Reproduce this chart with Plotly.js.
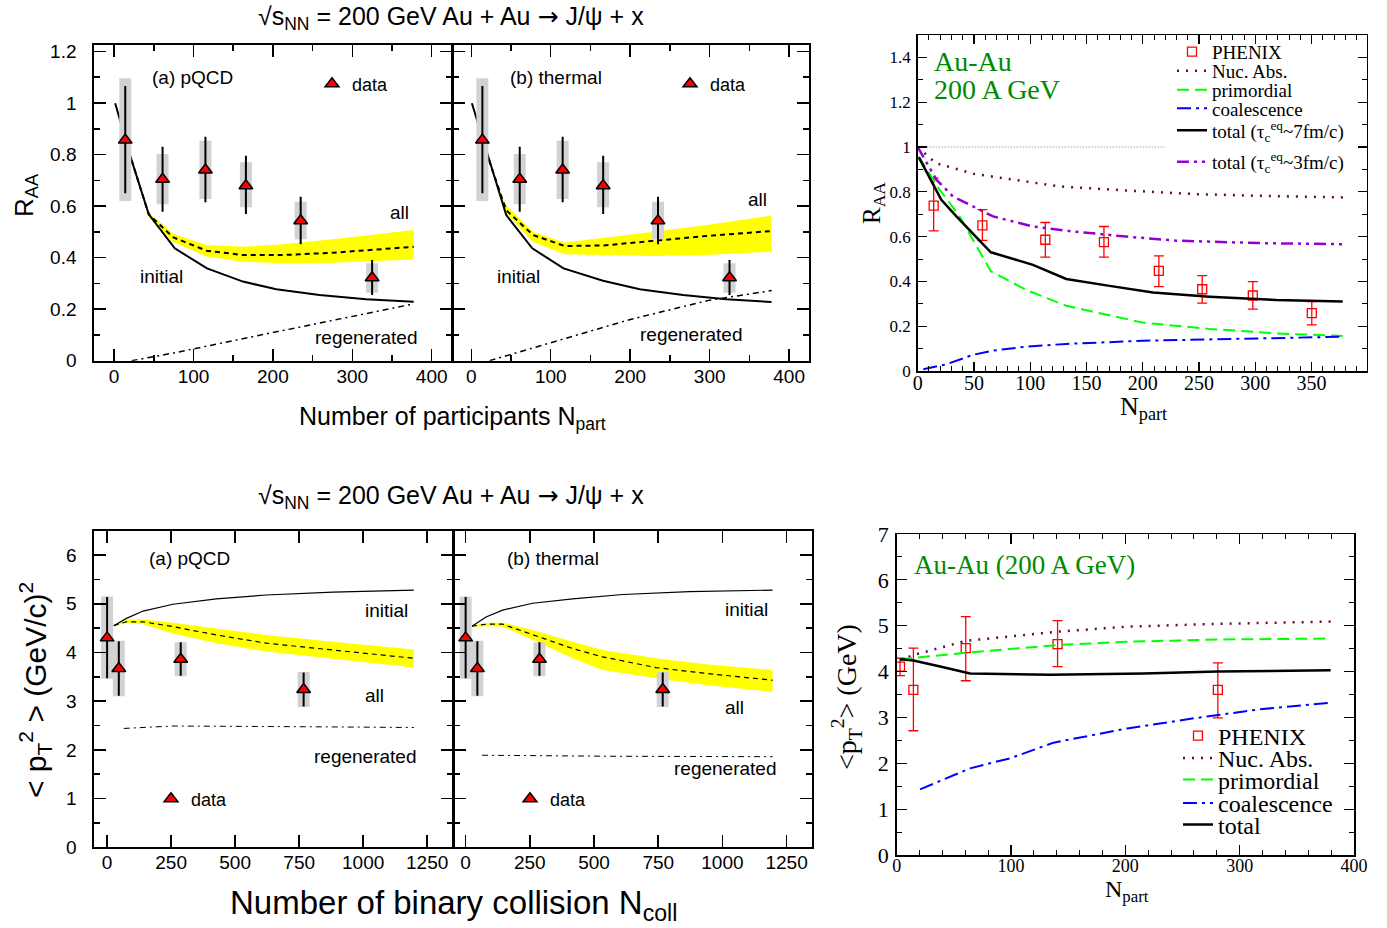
<!DOCTYPE html>
<html><head><meta charset="utf-8">
<script src="https://cdn.plot.ly/plotly-3.0.1.min.js"></script>
<style>body{margin:0;background:#fff}#plot{width:1387px;height:928px}</style>
</head><body><div id="plot"></div>
<script>
// ---------- Top-left panels: R_AA vs Npart (data) ----------
const raaNpart = [14, 61, 115, 166, 235, 325];
const raaVal = [0.856, 0.704, 0.74, 0.679, 0.543, 0.322];
const raaErrUp = [0.21, 0.126, 0.129, 0.116, 0.093, 0.069];
const raaErrDn = [0.206, 0.126, 0.125, 0.11, 0.091, 0.067];
const raaSysUp = [0.24, 0.098, 0.113, 0.091, 0.074, 0.056];
const raaSysDn = [0.236, 0.097, 0.113, 0.084, 0.072, 0.058];
// (a) pQCD
const pqcdInitX = [1.3, 21.9, 43.6, 76.4, 117, 162.3, 204.3, 258.7, 317.5, 377.4];
const pqcdInitY = [0.999, 0.779, 0.568, 0.436, 0.358, 0.307, 0.277, 0.255, 0.238, 0.229];
const pqcdAllX = [21.9, 43.6, 74.2, 116.2, 162.3, 212.6, 275.5, 377.4];
const pqcdAllY = [0.779, 0.568, 0.479, 0.427, 0.41, 0.41, 0.419, 0.442];
const pqcdBandX = [43.6, 74.2, 116.2, 162.3, 212.6, 275.5, 377.4];
const pqcdBandHi = [0.575, 0.494, 0.449, 0.442, 0.452, 0.471, 0.507];
const pqcdBandLo = [0.56, 0.462, 0.404, 0.384, 0.378, 0.38, 0.393];
const pqcdRegX = [22, 75, 150, 225, 300, 377];
const pqcdRegY = [0, 0.03, 0.078, 0.125, 0.17, 0.22];
// (b) thermal
const thInitX = [0.8, 22.2, 44, 76.8, 116.2, 165.8, 212, 266.5, 321, 377.8];
const thInitY = [0.999, 0.779, 0.565, 0.436, 0.358, 0.31, 0.277, 0.255, 0.238, 0.228];
const thAllX = [22.2, 44, 77.6, 117.5, 165.8, 228.7, 296, 377.8];
const thAllY = [0.779, 0.584, 0.488, 0.445, 0.447, 0.466, 0.484, 0.503];
const thBandX = [33, 44, 77.6, 117.5, 228.7, 296, 377.8];
const thBandHi = [0.675, 0.604, 0.5, 0.459, 0.5, 0.527, 0.563];
const thBandLo = [0.66, 0.572, 0.462, 0.413, 0.406, 0.41, 0.423];
const thRegX = [23, 100, 200, 300, 378];
const thRegY = [0, 0.07, 0.16, 0.235, 0.272];

// ---------- Top-right: R_AA (Au-Au 200 A GeV) ----------
const phxX = [14.2, 57.5, 113.4, 165.5, 214.3, 252.8, 297.8, 350.2];
const phxY = [0.738, 0.65, 0.586, 0.575, 0.447, 0.365, 0.337, 0.258];
const phxErrUp = [0.123, 0.07, 0.077, 0.07, 0.067, 0.061, 0.062, 0.052];
const phxErrDn = [0.112, 0.067, 0.078, 0.067, 0.07, 0.062, 0.061, 0.052];
const refX = [0, 220];
const refY = [1, 1];
const nucX = [0, 16, 50, 126, 185, 245, 304, 378];
const nucY = [1.0, 0.928, 0.88, 0.824, 0.806, 0.79, 0.782, 0.775];
const primX = [1, 19.5, 37.3, 65, 96.5, 132, 200, 259.3, 318.6, 377.7];
const primY = [0.958, 0.809, 0.69, 0.445, 0.362, 0.291, 0.216, 0.188, 0.168, 0.156];
const coalX = [5, 25.5, 49, 67, 96.5, 132, 200, 259.3, 318.6, 377.7];
const coalY = [0.008, 0.03, 0.072, 0.091, 0.109, 0.121, 0.135, 0.142, 0.148, 0.153];
const tot7X = [1, 21, 34.4, 65, 102.4, 132, 170.5, 209, 259.3, 318.6, 377.7];
const tot7Y = [0.954, 0.764, 0.69, 0.53, 0.474, 0.411, 0.38, 0.35, 0.332, 0.317, 0.31];
const tot3X = [0, 16.6, 31.4, 67, 102.4, 138, 185.3, 229.7, 303.7, 377.7];
const tot3Y = [1.0, 0.854, 0.779, 0.69, 0.645, 0.623, 0.6, 0.582, 0.571, 0.566];

// ---------- Bottom-left panels: <pT^2> vs Ncoll ----------
const ptNcoll = [0, 45.7, 287.5, 767.5];
const ptVal = [4.30, 3.67, 3.86, 3.24];
const ptErrUp = [0.84, 0.56, 0.35, 0.35];
const ptErrDn = [0.83, 0.56, 0.34, 0.35];
const ptSysUp = [0.85, 0.57, 0.35, 0.36];
const ptSysDn = [0.84, 0.57, 0.35, 0.36];
// (a) pQCD
const ptqInitX = [26.1, 75.6, 140.5, 257.5, 426.8, 621.9, 881.8, 1197.8];
const ptqInitY = [4.55, 4.70, 4.85, 4.99, 5.10, 5.18, 5.24, 5.28];
const ptqAllX = [26.1, 75.6, 140.5, 257.5, 426.8, 621.9, 881.8, 1197.8];
const ptqAllY = [4.55, 4.63, 4.63, 4.53, 4.36, 4.19, 4.05, 3.88];
const ptqBandHi = [4.56, 4.67, 4.68, 4.61, 4.49, 4.36, 4.22, 4.06];
const ptqBandLo = [4.54, 4.61, 4.58, 4.39, 4.19, 4.02, 3.87, 3.69];
const ptqRegX = [65.2, 257.5, 621.9, 1197.8];
const ptqRegY = [2.44, 2.49, 2.48, 2.46];
// (b) thermal
const pttInitX = [24.9, 79.4, 144, 261, 416.7, 611.4, 871, 1195.5];
const pttInitY = [4.54, 4.73, 4.87, 5.01, 5.10, 5.19, 5.25, 5.28];
const pttAllX = [24.9, 79.4, 144, 261, 416.7, 533, 741.4, 936, 1195.5];
const pttAllY = [4.54, 4.58, 4.58, 4.36, 4.08, 3.91, 3.69, 3.57, 3.43];
const pttBandHi = [4.55, 4.61, 4.61, 4.46, 4.22, 4.05, 3.88, 3.76, 3.64];
const pttBandLo = [4.53, 4.54, 4.53, 4.26, 3.88, 3.64, 3.47, 3.33, 3.19];
const pttRegX = [63.8, 546.7, 1195.5];
const pttRegY = [1.89, 1.87, 1.86];

// ---------- Bottom-right: <pT^2> (Au-Au 200 A GeV) ----------
const ppX = [2.9, 14.6, 60.4, 140.7, 280.9];
const ppY = [4.11, 3.6, 4.51, 4.6, 3.6];
const ppErrUp = [0.18, 0.91, 0.69, 0.51, 0.59];
const ppErrDn = [0.2, 0.89, 0.71, 0.49, 0.61];
const nucPtX = [3, 14.6, 60.4, 140.7, 201.5, 280.9, 379.6];
const nucPtY = [4.25, 4.36, 4.67, 4.87, 4.98, 5.04, 5.09];
const primPtX = [3, 60.4, 140.7, 201.5, 280.9, 379.6];
const primPtY = [4.27, 4.41, 4.58, 4.65, 4.70, 4.72];
const coalPtX = [20.4, 64.2, 99.3, 137.2, 201.5, 259.8, 318.3, 379.6];
const coalPtY = [1.43, 1.89, 2.11, 2.45, 2.76, 2.98, 3.18, 3.32];
const totPtX = [3, 14.6, 38, 64.2, 134.3, 216, 280.9, 379.6];
const totPtY = [4.27, 4.24, 4.11, 3.96, 3.93, 3.96, 4.0, 4.03];

// ---------- helpers ----------
const W = 1387, H = 928;
const PX = v => v / W, PY = v => 1 - v / H;
const SANS = 'Liberation Sans, Arial, Helvetica, sans-serif';
const SERIF = 'Liberation Serif, Times New Roman, serif';
const YEL = '#ffff00', GREY = '#d2d2d2';
const MAROON = '#670748', LIME = '#00ff00', BLUE = '#0000ff', VIOLET = '#9400d3';

const traces = [];
function bandTraces(xa, ya, bx, hi, lo) {
  traces.push({x: bx, y: hi, xaxis: xa, yaxis: ya, mode: 'lines', line: {width: 0, color: YEL}, showlegend: false, hoverinfo: 'skip'});
  traces.push({x: bx, y: lo, xaxis: xa, yaxis: ya, mode: 'lines', line: {width: 0, color: YEL}, fill: 'tonexty', fillcolor: YEL, showlegend: false, hoverinfo: 'skip'});
}
function lineTrace(xa, ya, x, y, color, width, dash, name, legend) {
  traces.push({x, y, xaxis: xa, yaxis: ya, mode: 'lines', name: name || '',
    line: {color, width, dash: dash || 'solid'}, showlegend: !!legend, legend: legend || 'legend'});
}
function dataTriangles(xa, ya, x, y, eu, ed, su, sd, legend) {
  traces.push({x, y, xaxis: xa, yaxis: ya, mode: 'markers', marker: {size: 1, color: 'rgba(0,0,0,0)'},
    error_y: {type: 'data', symmetric: false, array: su, arrayminus: sd, color: GREY, thickness: 12, width: 0},
    showlegend: false, hoverinfo: 'skip'});
  traces.push({x, y, xaxis: xa, yaxis: ya, mode: 'markers', name: 'data', legend,
    marker: {symbol: 'triangle-up', size: 12, color: '#ff0000', line: {color: '#000', width: 1.5}},
    error_y: {type: 'data', symmetric: false, array: eu, arrayminus: ed, color: '#000', thickness: 2, width: 0},
    showlegend: true});
}

// TL (a)
bandTraces('x', 'y', pqcdBandX, pqcdBandHi, pqcdBandLo);
lineTrace('x', 'y', pqcdAllX, pqcdAllY, '#000', 2, '5px,4px');
lineTrace('x', 'y', pqcdInitX, pqcdInitY, '#000', 2);
lineTrace('x', 'y', pqcdRegX, pqcdRegY, '#000', 1.5, '6px,4px,2px,4px');
dataTriangles('x', 'y', raaNpart, raaVal, raaErrUp, raaErrDn, raaSysUp, raaSysDn, 'legend');
// TL (b)
bandTraces('x2', 'y2', thBandX, thBandHi, thBandLo);
lineTrace('x2', 'y2', thAllX, thAllY, '#000', 2, '5px,4px');
lineTrace('x2', 'y2', thInitX, thInitY, '#000', 2);
lineTrace('x2', 'y2', thRegX, thRegY, '#000', 1.5, '6px,4px,2px,4px');
dataTriangles('x2', 'y2', raaNpart, raaVal, raaErrUp, raaErrDn, raaSysUp, raaSysDn, 'legend2');

// TR
lineTrace('x3', 'y3', refX, refY, '#555', 0.8, '1px,2px');
traces.push({x: phxX, y: phxY, xaxis: 'x3', yaxis: 'y3', mode: 'markers', name: 'PHENIX', legend: 'legend3',
  marker: {symbol: 'square-open', size: 9, color: '#ff0000', line: {width: 1.3, color: '#ff0000'}},
  error_y: {type: 'data', symmetric: false, array: phxErrUp, arrayminus: phxErrDn, color: '#ff0000', thickness: 1.3, width: 5}});
lineTrace('x3', 'y3', nucX, nucY, MAROON, 2.5, '2px,7px', 'Nuc. Abs.', 'legend4');
lineTrace('x3', 'y3', primX, primY, LIME, 2, '12px,6px', 'primordial', 'legend5');
lineTrace('x3', 'y3', coalX, coalY, BLUE, 2, '14px,5px,3px,5px', 'coalescence', 'legend6');
lineTrace('x3', 'y3', tot7X, tot7Y, '#000', 2.5, 'solid', 'total (τ<sub>c</sub><sup>eq</sup>~7fm/c)', 'legend7');
lineTrace('x3', 'y3', tot3X, tot3Y, VIOLET, 2.5, '12px,5px,3px,5px,3px,5px', 'total (τ<sub>c</sub><sup>eq</sup>~3fm/c)', 'legend8');

// BL (a)
bandTraces('x4', 'y4', ptqAllX, ptqBandHi, ptqBandLo);
lineTrace('x4', 'y4', ptqAllX, ptqAllY, '#000', 1.2, '5px,4px');
lineTrace('x4', 'y4', ptqInitX, ptqInitY, '#000', 1.2);
lineTrace('x4', 'y4', ptqRegX, ptqRegY, '#000', 1, '6px,4px,2px,4px');
dataTriangles('x4', 'y4', ptNcoll, ptVal, ptErrUp, ptErrDn, ptSysUp, ptSysDn, 'legend9');
// BL (b)
bandTraces('x5', 'y5', pttAllX, pttBandHi, pttBandLo);
lineTrace('x5', 'y5', pttAllX, pttAllY, '#000', 1.2, '5px,4px');
lineTrace('x5', 'y5', pttInitX, pttInitY, '#000', 1.2);
lineTrace('x5', 'y5', pttRegX, pttRegY, '#000', 1, '6px,4px,2px,4px');
dataTriangles('x5', 'y5', ptNcoll, ptVal, ptErrUp, ptErrDn, ptSysUp, ptSysDn, 'legend10');

// BR
traces.push({x: ppX, y: ppY, xaxis: 'x6', yaxis: 'y6', mode: 'markers', name: 'PHENIX', legend: 'legend11',
  marker: {symbol: 'square-open', size: 9, color: '#ff0000', line: {width: 1.3, color: '#ff0000'}},
  error_y: {type: 'data', symmetric: false, array: ppErrUp, arrayminus: ppErrDn, color: '#ff0000', thickness: 1.3, width: 5}});
lineTrace('x6', 'y6', nucPtX, nucPtY, MAROON, 2.5, '2px,7px', 'Nuc. Abs.', 'legend12');
lineTrace('x6', 'y6', primPtX, primPtY, LIME, 2, '12px,6px', 'primordial', 'legend13');
lineTrace('x6', 'y6', coalPtX, coalPtY, BLUE, 2, '14px,5px,3px,5px', 'coalescence', 'legend14');
lineTrace('x6', 'y6', totPtX, totPtY, '#000', 2.5, 'solid', 'total', 'legend15');

// ---------- axes ----------
function ax(o) {
  return Object.assign({showline: true, linecolor: '#000', linewidth: 2, mirror: 'allticks', ticks: 'inside',
    ticklen: 12, tickwidth: 1.5, tickcolor: '#000', showgrid: false, zeroline: false, fixedrange: true}, o);
}
const sansTick = {family: SANS, size: 19, color: '#000'};
const minorL = d => ({dtick: d, ticks: 'inside', ticklen: 6, tickwidth: 1.5, tickcolor: '#000'});
const minorR = d => ({dtick: d, ticks: 'inside', ticklen: 5, tickwidth: 1, tickcolor: '#000'});

const layout = {
  width: W, height: H, margin: {l: 0, r: 0, t: 0, b: 0}, paper_bgcolor: '#fff', plot_bgcolor: '#fff',
  showlegend: true,
  xaxis: ax({domain: [PX(94.3), PX(451.5)], anchor: 'y', range: [-25, 425], tick0: 0, dtick: 100, minor: minorL(50), tickfont: sansTick, ticklabelstandoff: -3}),
  yaxis: ax({domain: [PY(360.7), PY(45)], anchor: 'x', range: [0, 1.225], tick0: 0, dtick: 0.2, minor: minorL(0.1), tickfont: sansTick, ticklabelstandoff: 12}),
  xaxis2: ax({domain: [PX(452.5), PX(809)], anchor: 'y2', range: [-23.6, 425], tick0: 0, dtick: 100, minor: minorL(50), tickfont: sansTick, ticklabelstandoff: -3}),
  yaxis2: ax({domain: [PY(360.7), PY(45)], anchor: 'x2', range: [0, 1.225], tick0: 0, dtick: 0.2, minor: minorL(0.1), showticklabels: false}),
  xaxis3: ax({domain: [PX(917.7), PX(1366.7)], anchor: 'y3', range: [0, 399], tickvals: [0, 50, 100, 150, 200, 250, 300, 350], minor: minorR(10), linewidth: 1.5, ticklen: 9, tickwidth: 1.2, tickfont: {family: SERIF, size: 20, color: '#000'}, ticklabelstandoff: -7}),
  yaxis3: ax({domain: [PY(371), PY(35)], anchor: 'x3', range: [0, 1.5], tickvals: [0, 0.2, 0.4, 0.6, 0.8, 1, 1.2, 1.4], minor: minorR(0.1), linewidth: 1.5, ticklen: 9, tickwidth: 1.2, tickfont: {family: SERIF, size: 17, color: '#000'}, ticklabelstandoff: 2}),
  xaxis4: ax({domain: [PX(94.3), PX(452.8)], anchor: 'y4', range: [-50, 1350], tick0: 0, dtick: 250, tickfont: sansTick, ticklabelstandoff: -3}),
  yaxis4: ax({domain: [PY(847.3), PY(530.7)], anchor: 'x4', range: [0, 6.5], tick0: 0, dtick: 1, minor: minorL(0.5), tickfont: sansTick, ticklabelstandoff: 12}),
  xaxis5: ax({domain: [PX(453.8), PX(812.3)], anchor: 'y5', range: [-46.1, 1350], tick0: 0, dtick: 250, tickfont: sansTick, ticklabelstandoff: -3}),
  yaxis5: ax({domain: [PY(847.3), PY(530.7)], anchor: 'x5', range: [0, 6.5], tick0: 0, dtick: 1, minor: minorL(0.5), showticklabels: false}),
  xaxis6: ax({domain: [PX(896.7), PX(1354)], anchor: 'y6', range: [0, 400], tick0: 0, dtick: 100, minor: minorR(20), linewidth: 1.5, ticklen: 10, tickwidth: 1.2, tickfont: {family: SERIF, size: 18, color: '#000'}, ticklabelstandoff: -6}),
  yaxis6: ax({domain: [PY(855), PY(534)], anchor: 'x6', range: [0, 7], tick0: 0, dtick: 1, minor: minorR(0.5), linewidth: 1.5, ticklen: 10, tickwidth: 1.2, tickfont: {family: SERIF, size: 22, color: '#000'}, ticklabelstandoff: 2}),
  annotations: [],
};

// legends (one entry each, placed individually)
function leg(name, sx, sy, font) {
  layout[name] = {x: PX(sx - 20), y: PY(sy), xanchor: 'left', yanchor: 'middle', bgcolor: 'rgba(0,0,0,0)',
    borderwidth: 0, font: font, itemwidth: 30, tracegroupgap: 0, itemclick: false, itemdoubleclick: false};
}
const legSans = {family: SANS, size: 18, color: '#000'};
leg('legend', 332, 84, legSans);
leg('legend2', 690, 84, legSans);
leg('legend9', 171, 799, legSans);
leg('legend10', 530, 799, legSans);
const legTR = {family: SERIF, size: 19, color: '#000'};
leg('legend3', 1192, 51.7, legTR);
leg('legend4', 1192, 71, legTR);
leg('legend5', 1192, 90, legTR);
leg('legend6', 1192, 108.3, legTR);
leg('legend7', 1192, 130.5, legTR);
leg('legend8', 1192, 162, legTR);
const legBR = {family: SERIF, size: 24, color: '#000'};
leg('legend11', 1198, 736, legBR);
leg('legend12', 1198, 758.3, legBR);
leg('legend13', 1198, 780, legBR);
leg('legend14', 1198, 803.3, legBR);
leg('legend15', 1198, 825, legBR);

function note(text, x, y, size, family, opts) {
  layout.annotations.push(Object.assign({text, x: PX(x), y: PY(y), xref: 'paper', yref: 'paper', showarrow: false,
    xanchor: 'left', yanchor: 'middle', font: {family, size, color: '#000'}}, opts || {}));
}
const title = '√s<sub>NN</sub> = 200 GeV Au + Au <span style="font-family:DejaVu Sans">→</span> J/ψ + x';
note(title, 451, 18, 25, SANS, {xanchor: 'center'});
note('(a) pQCD', 150, 77, 19, SANS);
note('initial', 138, 277, 19, SANS);
note('all', 388, 212, 19, SANS);
note('regenerated', 313, 337, 19, SANS);
note('(b) thermal', 508, 77, 19, SANS);
note('initial', 495, 277, 19, SANS);
note('all', 746, 200, 19, SANS);
note('regenerated', 638, 335, 19, SANS);
note('Number of participants N<sub>part</sub>', 452, 418, 25, SANS, {xanchor: 'center'});
note('R<sub>AA</sub>', 25, 195, 26, SANS, {xanchor: 'center', textangle: -90});

note(title, 451, 497, 25, SANS, {xanchor: 'center'});
note('(a) pQCD', 147, 558, 19, SANS);
note('initial', 363, 610, 19, SANS);
note('all', 363, 695, 19, SANS);
note('regenerated', 312, 756, 19, SANS);
note('(b) thermal', 505, 558, 19, SANS);
note('initial', 723, 609, 19, SANS);
note('all', 723, 707, 19, SANS);
note('regenerated', 672, 768, 19, SANS);
note('Number of binary collision N<sub>coll</sub>', 453, 905, 33, SANS, {xanchor: 'center'});
note('&lt; p<sub>T</sub><sup>2</sup> &gt; (GeV/c)<sup>2</sup>', 35, 690, 30, SANS, {xanchor: 'center', textangle: -90});

note('Au-Au', 932, 62, 28, SERIF, {font: {family: SERIF, size: 28, color: '#008b00'}});
note('200 A GeV', 932, 90, 28, SERIF, {font: {family: SERIF, size: 28, color: '#008b00'}});
note('R<sub>AA</sub>', 873, 203, 25, SERIF, {xanchor: 'center', textangle: -90});
note('N<sub>part</sub>', 1143, 408, 26, SERIF, {xanchor: 'center'});

note('Au-Au (200 A GeV)', 912, 565, 27, SERIF, {font: {family: SERIF, size: 27, color: '#008b00'}});
note('&lt;p<sub>T</sub><sup>2</sup>&gt; (GeV)', 846, 697, 28, SERIF, {xanchor: 'center', textangle: -90});
note('N<sub>part</sub>', 1127, 891, 24, SERIF, {xanchor: 'center'});

Plotly.newPlot('plot', traces, layout, {staticPlot: true, displayModeBar: false});
</script></body></html>
